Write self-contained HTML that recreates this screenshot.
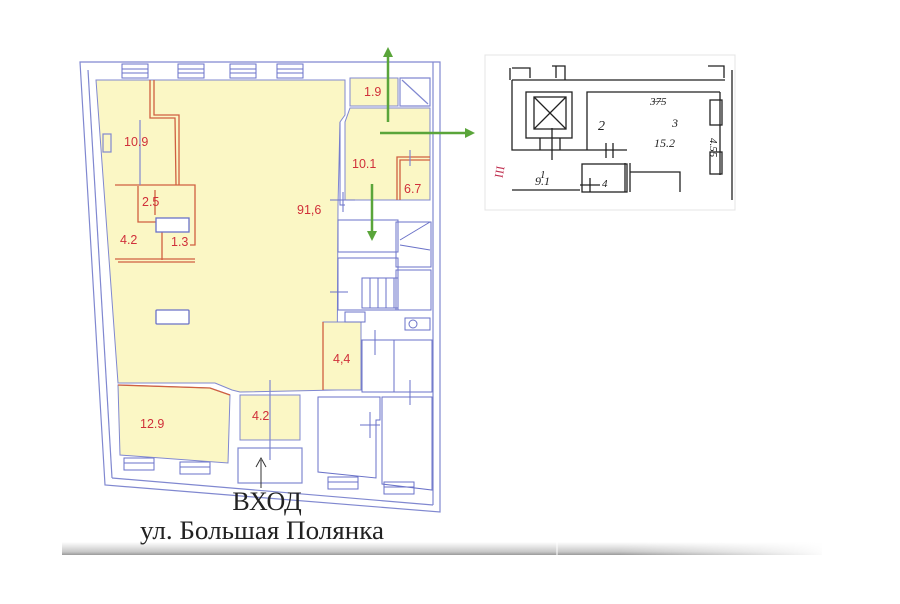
<!DOCTYPE html>
<html><head><meta charset="utf-8"><style>
html,body{margin:0;padding:0;background:#fff;width:900px;height:604px;overflow:hidden}
svg{display:block}
.r{font-family:"Liberation Sans",sans-serif;font-size:12.5px;fill:#d0303a}
.w{stroke:#8088d0;fill:none;stroke-width:1.2}
.w2{stroke:#6a72c8;fill:none;stroke-width:1}
.rd{stroke:#d06040;fill:none;stroke-width:1.3}
.k{stroke:#222;fill:none;stroke-width:1.3}
</style></head><body>
<svg width="900" height="604" viewBox="0 0 900 604" xmlns="http://www.w3.org/2000/svg">
<defs>
<linearGradient id="bar" x1="0" y1="0" x2="0" y2="1">
<stop offset="0" stop-color="#fff"/><stop offset="0.75" stop-color="#c8c8c8"/><stop offset="1" stop-color="#9a9a9a"/>
</linearGradient>
<linearGradient id="fade" x1="0" y1="0" x2="1" y2="0">
<stop offset="0" stop-color="#fff" stop-opacity="0"/><stop offset="1" stop-color="#fff" stop-opacity="1"/>
</linearGradient>
<marker id="ga" viewBox="0 0 10 10" refX="5" refY="5" markerWidth="4" markerHeight="4" orient="auto"><path d="M0,0L10,5L0,10z" fill="#5aa53a"/></marker>
</defs>

<rect x="62" y="542" width="760" height="13" fill="url(#bar)"/>
<rect x="620" y="540" width="210" height="18" fill="url(#fade)"/>
<line x1="557" y1="542" x2="557" y2="555" stroke="#fff" stroke-width="1"/>

<path class="w" d="M80,62 L440,62 L440,512 L105,485 Z"/>
<path class="w" d="M433,62 L433,505"/>
<path class="w" d="M88,70 L112,478"/>
<path class="w" d="M112,478 L433,505"/>
<g class="w2">
<rect x="122" y="64" width="26" height="14"/><line x1="122" y1="69" x2="148" y2="69"/><line x1="122" y1="73" x2="148" y2="73"/>
<rect x="178" y="64" width="26" height="14"/><line x1="178" y1="69" x2="204" y2="69"/><line x1="178" y1="73" x2="204" y2="73"/>
<rect x="230" y="64" width="26" height="14"/><line x1="230" y1="69" x2="256" y2="69"/><line x1="230" y1="73" x2="256" y2="73"/>
<rect x="277" y="64" width="26" height="14"/><line x1="277" y1="69" x2="303" y2="69"/><line x1="277" y1="73" x2="303" y2="73"/>
<rect x="124" y="458" width="30" height="12"/><line x1="124" y1="463" x2="154" y2="463"/>
<rect x="180" y="462" width="30" height="12"/><line x1="180" y1="467" x2="210" y2="467"/>
<rect x="328" y="477" width="30" height="12"/><line x1="328" y1="482" x2="358" y2="482"/>
<rect x="384" y="482" width="30" height="12"/><line x1="384" y1="487" x2="414" y2="487"/>
</g>

<path d="M96,80 L345,80 L345,115 L340,122 L338,205 L337,390 L240,392 L232,390 L215,383 L118,383 Z" fill="#fbf7c5" stroke="#8088d0" stroke-width="1"/>
<path d="M350,108 L430,108 L430,200 L345,200 L345,122 Z" fill="#fbf7c5" stroke="#8088d0" stroke-width="1"/>
<rect x="350" y="78" width="48" height="28" fill="#fbf7c5" stroke="#8088d0"/>
<path class="w" d="M400,78 L430,78 L430,106 L400,106 Z M402,80 L428,104"/>
<rect x="323" y="322" width="38" height="68" fill="#fbf7c5" stroke="#8088d0"/>
<line class="rd" x1="323" y1="322" x2="323" y2="390"/>
<path d="M118,385 L210,388 L230,395 L228,463 L120,455 Z" fill="#fbf7c5" stroke="#8088d0"/>
<path class="rd" d="M118,385 L210,388 L230,395"/>
<rect x="240" y="395" width="60" height="45" fill="#fbf7c5" stroke="#8088d0"/>
<rect class="w" x="238" y="448" width="64" height="35"/>
<line class="w" x1="270" y1="380" x2="270" y2="460"/>

<path class="rd" d="M150,80 L150,118 L175,118 L176,185 M154,80 L154,115 L179,115 L179,185"/>
<path class="rd" d="M115,185 L195,185 L195,245 L190,245 M115,259 L195,259 M118,262 L195,262"/>
<path class="rd" d="M138,186 L138,222 L158,222 M155,190 L155,215"/>
<line class="rd" x1="162" y1="232" x2="162" y2="260"/>
<rect x="156" y="218" width="33" height="14" fill="#fff" stroke="#6a72c8" stroke-width="1.3"/>
<line class="w" x1="140" y1="120" x2="140" y2="185"/>
<rect class="w" x="103" y="134" width="8" height="18"/>
<rect x="156" y="310" width="33" height="14" fill="#fff" stroke="#6a72c8" stroke-width="1.3" rx="1"/>
<path class="rd" d="M400,200 L400,160 L430,160 M397,200 L397,157 L430,157"/>
<line class="w" x1="410" y1="150" x2="410" y2="166"/>
<g class="w2">
<path d="M340,122 L340,205 L345,205"/>
<line x1="330" y1="200" x2="355" y2="200"/><line x1="343" y1="192" x2="343" y2="212"/>
<rect x="338" y="220" width="60" height="32"/>
<rect x="396" y="222" width="35" height="45"/>
<line x1="400" y1="240" x2="430" y2="222"/><line x1="400" y1="245" x2="430" y2="250"/>
<rect x="338" y="258" width="60" height="52"/>
<rect x="362" y="278" width="36" height="30"/>
<line x1="370" y1="278" x2="370" y2="308"/><line x1="378" y1="278" x2="378" y2="308"/><line x1="386" y1="278" x2="386" y2="308"/><line x1="394" y1="278" x2="394" y2="308"/>
<rect x="396" y="270" width="35" height="40"/>
<line x1="330" y1="292" x2="348" y2="292"/>
<rect x="345" y="312" width="20" height="10"/>
<circle cx="413" cy="324" r="4"/>
<rect x="405" y="318" width="25" height="12"/>
<rect x="362" y="340" width="32" height="52"/>
<rect x="394" y="340" width="38" height="52"/>
<line x1="375" y1="330" x2="375" y2="355"/><line x1="410" y1="380" x2="410" y2="405"/>
<path d="M318,397 L380,397 L380,420 L376,420 L376,478 L318,472 Z"/>
<path d="M382,397 L432,397 L432,490 L382,484 Z"/>
<line x1="360" y1="425" x2="380" y2="425"/><line x1="370" y1="412" x2="370" y2="438"/>
</g>

<text class="r" x="124" y="146">10.9</text>
<text class="r" x="142" y="206">2.5</text>
<text class="r" x="120" y="244">4.2</text>
<text class="r" x="171" y="246">1.3</text>
<text class="r" x="297" y="214">91,6</text>
<text class="r" x="364" y="96">1.9</text>
<text class="r" x="352" y="168">10.1</text>
<text class="r" x="404" y="193">6.7</text>
<text class="r" x="333" y="363">4,4</text>
<text class="r" x="252" y="420">4.2</text>
<text class="r" x="140" y="428">12.9</text>

<g stroke="#5aa53a" stroke-width="2.5" fill="none">
<line x1="388" y1="122" x2="388" y2="52" marker-end="url(#ga)"/>
<line x1="380" y1="133" x2="470" y2="133" marker-end="url(#ga)"/>
<line x1="372" y1="184" x2="372" y2="236" marker-end="url(#ga)"/>
</g>

<line x1="261" y1="460" x2="261" y2="488" stroke="#333" stroke-width="1"/>
<path d="M256,467 L261,458 L266,467" stroke="#333" fill="none" stroke-width="1"/>
<text x="267" y="510" text-anchor="middle" font-family="'Liberation Serif',serif" font-size="26" fill="#222">ВХОД</text>
<text x="262" y="539" text-anchor="middle" font-family="'Liberation Serif',serif" font-size="26" fill="#222" textLength="244" lengthAdjust="spacingAndGlyphs">ул. Большая Полянка</text>

<rect x="485" y="55" width="250" height="155" fill="#fff" stroke="#e4e4e4"/>
<g class="k">
<path d="M510,68 L510,80 M512,68 L530,68 L530,78 M552,66 L565,66 L565,80 M556,66 L556,78 M708,66 L724,66 L724,78"/>
<path d="M512,80 L725,80"/>
<path d="M512,80 L512,150 L627,150"/>
<rect x="526" y="92" width="46" height="46"/>
<rect x="534" y="97" width="32" height="32"/>
<line x1="534" y1="97" x2="566" y2="129"/><line x1="566" y1="97" x2="534" y2="129"/>
<line x1="540" y1="138" x2="540" y2="150"/><line x1="560" y1="138" x2="560" y2="150"/><line x1="552" y1="128" x2="552" y2="160"/>
<path d="M587,150 L587,92 L720,92"/>
<path d="M606,143 L606,158 M613,143 L613,158"/>
<path d="M720,92 L720,175 M732,70 L732,200"/>
<rect x="710" y="100" width="12" height="25"/><rect x="710" y="152" width="12" height="22"/>
<rect x="582" y="164" width="45" height="28"/>
<path d="M625,163 L625,192 M630,163 L630,192 M630,172 L680,172 L680,192"/>
<line x1="512" y1="190" x2="580" y2="190"/>
<line x1="580" y1="185" x2="600" y2="185"/><line x1="590" y1="178" x2="590" y2="192"/>
</g>
<g font-family="'Liberation Serif',serif" fill="#222" font-style="italic">
<text x="598" y="130" font-size="14">2</text>
<text x="650" y="105" font-size="11">3̶7̶5</text>
<text x="672" y="127" font-size="12">3</text>
<text x="654" y="147" font-size="12">15.2</text>
<text x="540" y="178" font-size="11">1</text>
<text x="535" y="185" font-size="12">9.1</text>
<text x="602" y="187" font-size="11">4</text>
<text x="710" y="142" font-size="11" transform="rotate(90 712 140)">4.55</text>
</g>
<text x="497" y="178" font-family="'Liberation Serif',serif" font-size="12" fill="#c03050" transform="rotate(-80 500 175)">III</text>
</svg>
</body></html>
